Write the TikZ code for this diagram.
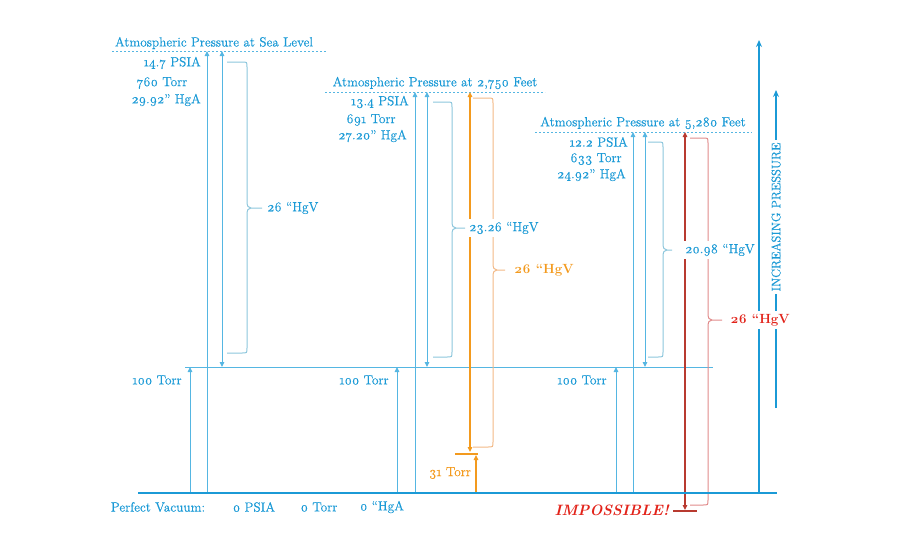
\documentclass[tikz,border=0pt]{standalone}
\usepackage{fontspec}
\setmainfont{Latin Modern Roman}[Numbers=OldStyle, UprightFeatures={FakeBold=0.5}]
\usetikzlibrary{arrows.meta}
\definecolor{cblue}{HTML}{1B9AD6}
\definecolor{lblue}{HTML}{55B6E2}
\definecolor{bblue}{HTML}{8CC6DC}
\definecolor{corange}{HTML}{F39A1E}
\definecolor{lorange}{HTML}{F2B886}
\definecolor{dred}{HTML}{B83A30}
\definecolor{lred}{HTML}{E08A8A}
\definecolor{cred}{HTML}{E2231A}
\newcommand\lfnt{\fontsize{13.3}{15}\selectfont}
\newcommand\drawbrace[7]{%
  \draw[#1] (#2,#4) -- ({#3-5},#4) .. controls (#3,#4) .. (#3,{#4+5})
    -- (#3,{#6-7}) .. controls (#3,{#6-2}) and ({#3+1},#6) .. ({#3+4},#6) -- (#7,#6)
    -- ({#3+4},#6) .. controls ({#3+1},#6) and (#3,{#6+2}) .. (#3,{#6+7})
    -- (#3,{#5-5}) .. controls (#3,#5) .. ({#3-5},#5) -- (#2,#5);}
\tikzset{
  lbl/.style={text=cblue, font=\lfnt, inner sep=1pt},
  ttl/.style={text=cblue, font=\lfnt, inner sep=1pt},
  arr/.style={draw=lblue, line width=1pt, -{Triangle[length=5pt,width=4.5pt]}},
  darr/.style={draw=lblue, line width=1pt, {Triangle[length=5pt,width=4.5pt]}-{Triangle[length=5pt,width=4.5pt]}},
  brc/.style={draw=bblue, line width=1pt},
  dline/.style={draw=lblue, line width=0.7pt, dash pattern=on 2pt off 2pt},
  wbg/.style={fill=white, inner sep=3pt}
}
\begin{document}
\begin{tikzpicture}[x=1pt,y=-1pt]
\useasboundingbox (0,0) rectangle (900,550);
% ---------- base coordinates ----------
\coordinate (vacL) at (138,493);
\coordinate (vacR) at (777,493);
\coordinate (torrL) at (185,367);
\coordinate (torrR) at (713,367);
% sea level
\coordinate (sdL) at (112,51);  \coordinate (sdR) at (327,51);
\coordinate (s1b) at (190,493); \coordinate (s1t) at (190,367);
\coordinate (s2b) at (207,493); \coordinate (s2t) at (207,51);
\coordinate (s3t) at (222,51);  \coordinate (s3b) at (222,367);
% 2750 ft
\coordinate (mdL) at (325,92);  \coordinate (mdR) at (545,92);
\coordinate (m1b) at (397,493); \coordinate (m1t) at (397,367);
\coordinate (m2b) at (415,493); \coordinate (m2t) at (415,92);
\coordinate (m3t) at (427,92);  \coordinate (m3b) at (427,367);
\coordinate (mot) at (470,92);  \coordinate (mob) at (470,452);
\coordinate (mbarL) at (455,454); \coordinate (mbarR) at (478,454);
\coordinate (mub) at (476,493); \coordinate (mut) at (476,455);
% 5280 ft
\coordinate (hdL) at (535,132); \coordinate (hdR) at (752,132);
\coordinate (h1b) at (616,493); \coordinate (h1t) at (616,367);
\coordinate (h2b) at (633,493); \coordinate (h2t) at (633,132);
\coordinate (h3t) at (645,132); \coordinate (h3b) at (645,367);
\coordinate (hrt) at (685,132); \coordinate (hrb) at (685,510);
\coordinate (hbarL) at (673,511); \coordinate (hbarR) at (697,511);
% axis
\coordinate (axb) at (759,493); \coordinate (axt) at (759,40);
\coordinate (ipb) at (776,408); \coordinate (ipt) at (776,90);

% ---------- lines ----------
\draw[draw=lblue, line width=0.8pt] (torrL) -- (torrR);
\draw[dline] (sdL) -- (sdR);
\draw[dline] (mdL) -- (mdR);
\draw[dline] (hdL) -- (hdR);

\draw[arr] (s1b) -- (s1t);
\draw[arr] (s2b) -- (s2t);
\draw[darr] (s3t) -- (s3b);
\drawbrace{brc}{227}{247}{62}{353}{208}{262}

\draw[arr] (m1b) -- (m1t);
\draw[arr] (m2b) -- (m2t);
\draw[darr] (m3t) -- (m3b);
\drawbrace{brc}{433}{452}{102}{357}{228}{465}
\draw[draw=corange, line width=1.2pt, {Triangle[length=5pt,width=4.5pt]}-{Triangle[length=5pt,width=4.5pt]}] (mot) -- (mob);
\draw[draw=corange, line width=1.2pt] (mbarL) -- (mbarR);
\draw[draw=corange, line width=1.2pt, -{Triangle[length=5pt,width=4.5pt]}] (mub) -- (mut);
\drawbrace{draw=lorange, line width=1pt}{473}{493}{98}{447}{270}{505}

\draw[arr] (h1b) -- (h1t);
\draw[arr] (h2b) -- (h2t);
\draw[darr] (h3t) -- (h3b);
\drawbrace{brc}{648}{663}{142}{357}{250}{672}
\draw[draw=dred, line width=1.2pt, {Triangle[length=5pt,width=4.5pt]}-{Triangle[length=5pt,width=4.5pt]}] (hrt) -- (hrb);
\draw[draw=dred, line width=1.2pt] (hbarL) -- (hbarR);
\drawbrace{draw=lred, line width=1pt}{690}{708}{138}{505}{320}{722}

\draw[draw=cblue, line width=2.4pt] (vacL) -- (vacR);
\draw[draw=cblue, line width=1.8pt, -{Stealth[length=7pt,width=6pt]}] (axb) -- (axt);
\draw[draw=cblue, line width=1.6pt, -{Stealth[length=7pt,width=6pt]}] (ipb) -- (ipt);

% ---------- labels ----------
\node[ttl] (tS) at (214,43) {Atmospheric Pressure at Sea Level};
\node[lbl, anchor=east] (sPSIA) at (202,63) {14.7 PSIA};
\node[lbl] (sTorr) at (162,83) {760 Torr};
\node[lbl, anchor=east] (sHgA) at (202,100) {29.92” HgA};
\node[lbl, anchor=west] (sHgV) at (266,208) {26 “HgV};
\node[lbl] (s100) at (157,380) {100 Torr};

\node[ttl] (tM) at (435,83) {Atmospheric Pressure at 2,750 Feet};
\node[lbl, anchor=east] (mPSIA) at (410,102) {13.4 PSIA};
\node[lbl] (mTorr) at (371,120) {691 Torr};
\node[lbl, anchor=east] (mHgA) at (408,136) {27.20” HgA};
\node[lbl, wbg, anchor=west] (mHgV) at (466,228) {23.26 “HgV};
\node[lbl, anchor=west, text=corange, font=\lfnt\bfseries] (mHgVo) at (513,270) {26 “HgV};
\node[lbl] (m100) at (364,380) {100 Torr};
\node[lbl, text=corange] (m31) at (450,473) {31 Torr};

\node[ttl] (tH) at (643,123) {Atmospheric Pressure at 5,280 Feet};
\node[lbl, anchor=east] (hPSIA) at (629,142) {12.2 PSIA};
\node[lbl] (hTorr) at (596,159) {633 Torr};
\node[lbl, anchor=east] (hHgA) at (627,175) {24.92” HgA};
\node[lbl, wbg, anchor=west] (hHgV) at (682,250) {20.98 “HgV};
\node[lbl] (h100) at (582,380) {100 Torr};
\node[lbl, anchor=east, text=cred, font=\fontsize{15}{17}\selectfont\bfseries\itshape] (imp) at (670,510) {IMPOSSIBLE!};
\node[lbl, wbg, text=cred, font=\lfnt\bfseries] (hHgVr) at (760,320) {26 “HgV};

\node[lbl, wbg, rotate=90, font=\fontsize{12.5}{14}\selectfont] (incp) at (776,217) {INCREASING PRESSURE};

\node[lbl] (pv) at (158,507) {Perfect Vacuum:};
\node[lbl] (p0) at (254,507) {0 PSIA};
\node[lbl] (t0) at (319,507) {0 Torr};
\node[lbl] (h0) at (382,507) {0 “HgA};
\end{tikzpicture}
\end{document}
